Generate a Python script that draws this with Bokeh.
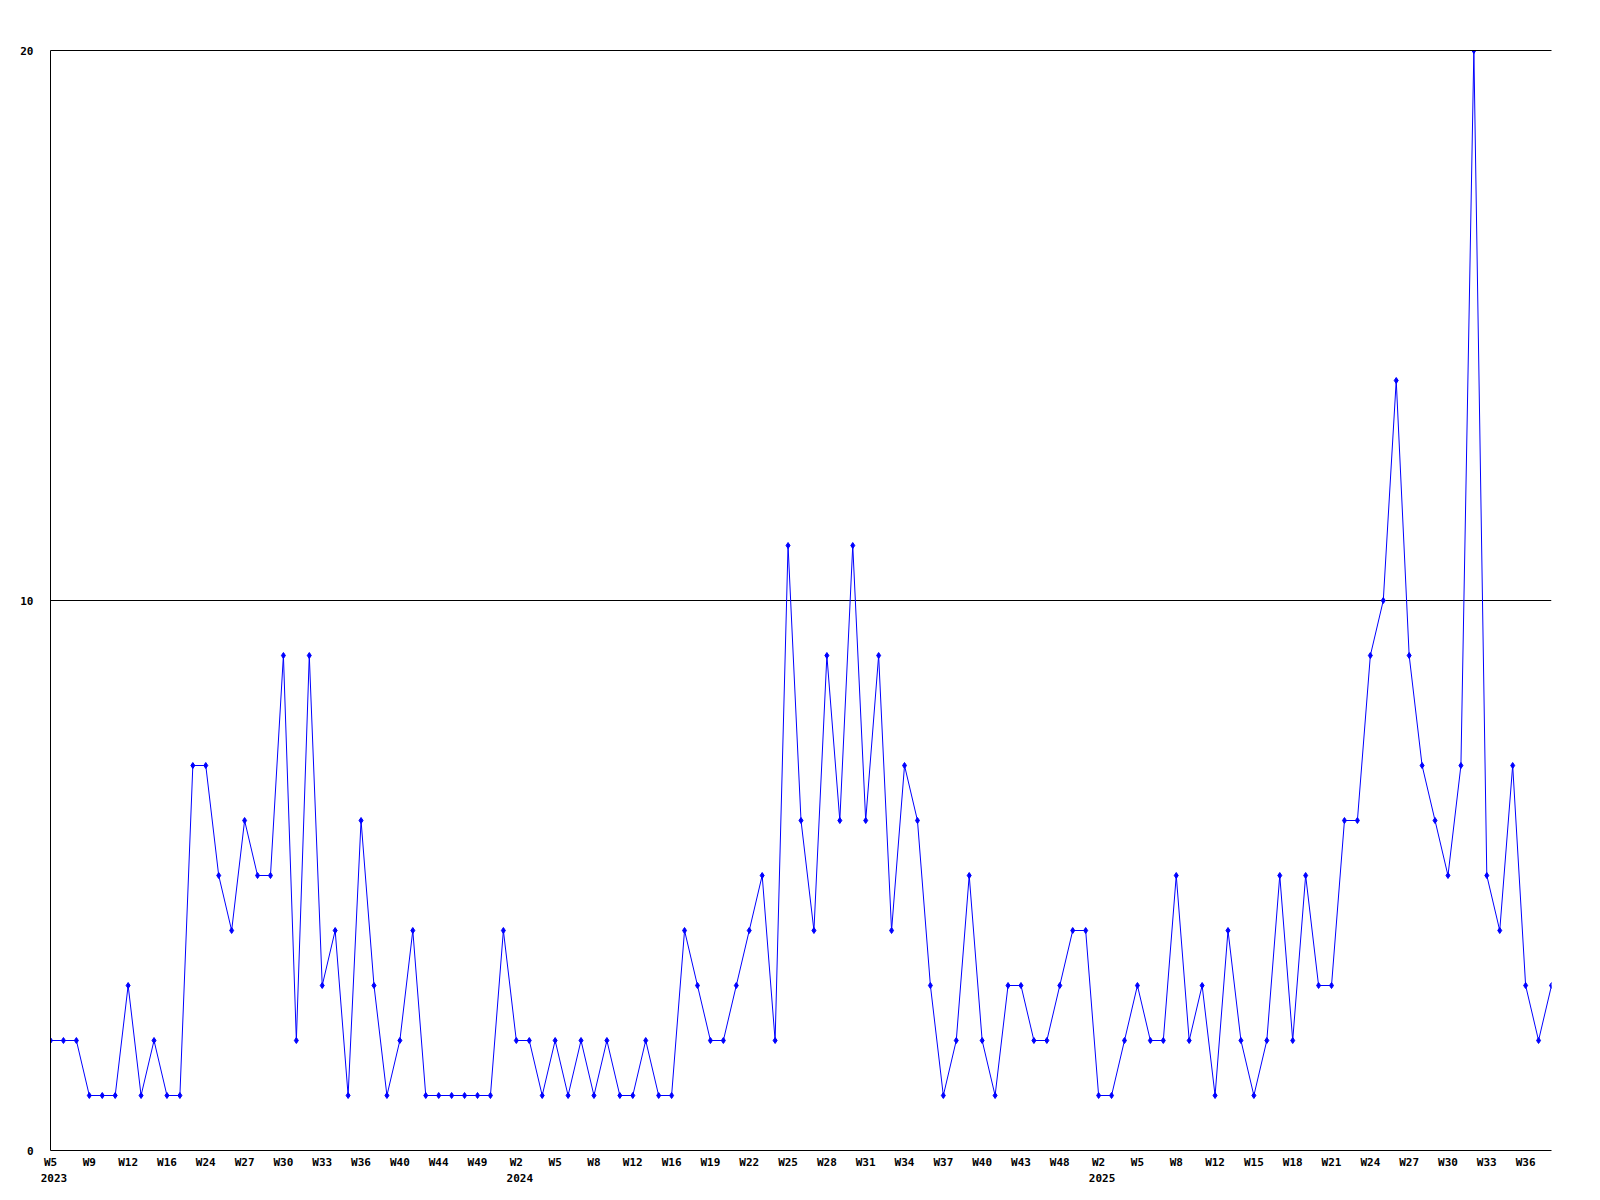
from bokeh.plotting import figure
from bokeh.models import Range1d, FixedTicker, LinearAxis
from bokeh.embed import file_html
from bokeh.resources import INLINE

# Weekly counts, W5 2023 .. W38 2025 (only weeks present in the source)
counts = [
    2, 2, 2, 1, 1, 1, 3, 1, 2, 1, 1, 7, 7, 5, 4, 6, 5, 5, 9, 2,
    9, 3, 4, 1, 6, 3, 1, 2, 4, 1, 1, 1, 1, 1, 1, 4, 2, 2, 1, 2,
    1, 2, 1, 2, 1, 1, 2, 1, 1, 4, 3, 2, 2, 3, 4, 5, 2, 11, 6, 4,
    9, 6, 11, 6, 9, 4, 7, 6, 3, 1, 2, 5, 2, 1, 3, 3, 2, 2, 3, 4,
    4, 1, 1, 2, 3, 2, 2, 5, 2, 3, 1, 4, 2, 1, 2, 5, 2, 5, 3, 3,
    6, 6, 9, 10, 14, 9, 7, 6, 5, 7, 20, 5, 4, 7, 3, 2, 3,
]

# Week labels shown on the axis (every third point)
week_labels = [
    "W5", "W9", "W12", "W16", "W24", "W27", "W30", "W33", "W36", "W40", "W44", "W49",
    "W2", "W5", "W8", "W12", "W16", "W19", "W22", "W25", "W28", "W31", "W34", "W37", "W40", "W43", "W48",
    "W2", "W5", "W8", "W12", "W15", "W18", "W21", "W24", "W27", "W30", "W33", "W36",
]
label_step = 3
year_labels = ["2023", "2024", "2025"]
year_label_index = [0, 12, 27]  # index into week_labels where each year starts

y_ticks = [0, 10, 20]

n = len(counts)
xs = list(range(n))

FONT = "DejaVu Sans Mono"

p = figure(
    frame_width=1501, frame_height=1100,
    x_range=Range1d(0, n - 1), y_range=Range1d(0, 20),
    output_backend="svg", toolbar_location=None,
    min_border_left=50, min_border_top=50, min_border_right=40, min_border_bottom=40,
    x_axis_type=None,
)
p.outline_line_color = None
p.background_fill_color = "white"
p.border_fill_color = "white"
# year labels sit a little right of their week tick
p.extra_x_ranges = {"yr": Range1d(-0.27, n - 1 - 0.27)}

# y axis
p.yaxis.ticker = FixedTicker(ticks=y_ticks)
p.yaxis.axis_line_color = "black"
p.yaxis.major_tick_line_color = None
p.yaxis.minor_tick_line_color = None
p.yaxis.major_tick_out = 0
p.yaxis.major_tick_in = 0
p.yaxis.major_label_standoff = 17
p.yaxis.major_label_text_font = FONT
p.yaxis.major_label_text_font_style = "bold"
p.yaxis.major_label_text_font_size = "11px"
p.yaxis.major_label_text_color = "black"

p.ygrid.ticker = FixedTicker(ticks=[t for t in y_ticks if t > 0])
p.ygrid.grid_line_color = "black"
p.ygrid.grid_line_width = 1
p.xgrid.visible = False

# top line (the 20 grid line at the frame edge)
top_axis = LinearAxis(
    ticker=FixedTicker(ticks=[]),
    axis_line_color="black",
    major_tick_line_color=None, minor_tick_line_color=None,
    major_tick_out=0, major_tick_in=0,
)
p.add_layout(top_axis, "above")

# week axis
tick_pos = [i * label_step for i in range(len(week_labels))]
wk_axis = LinearAxis(
    ticker=FixedTicker(ticks=tick_pos),
    major_label_overrides={t: lab for t, lab in zip(tick_pos, week_labels)},
    axis_line_color="black",
    major_tick_line_color=None, minor_tick_line_color=None,
    major_tick_out=0, major_tick_in=0,
    major_label_standoff=5,
    major_label_text_font=FONT, major_label_text_font_style="bold",
    major_label_text_font_size="11px", major_label_text_color="black",
)
p.add_layout(wk_axis, "below")

# year axis
yr_pos = [tick_pos[i] for i in year_label_index]
yr_axis = LinearAxis(
    x_range_name="yr",
    ticker=FixedTicker(ticks=yr_pos),
    major_label_overrides={t: lab for t, lab in zip(yr_pos, year_labels)},
    axis_line_color=None,
    major_tick_line_color=None, minor_tick_line_color=None,
    major_tick_out=0, major_tick_in=0,
    major_label_standoff=2,
    major_label_text_font=FONT, major_label_text_font_style="bold",
    major_label_text_font_size="11px", major_label_text_color="black",
)
p.add_layout(yr_axis, "below")

p.line(xs, counts, line_color="#0000ff", line_width=1)
p.scatter(xs, counts, marker="diamond", size=6, color="#0000ff")

open("out.html", "w").write(file_html(p, INLINE))
